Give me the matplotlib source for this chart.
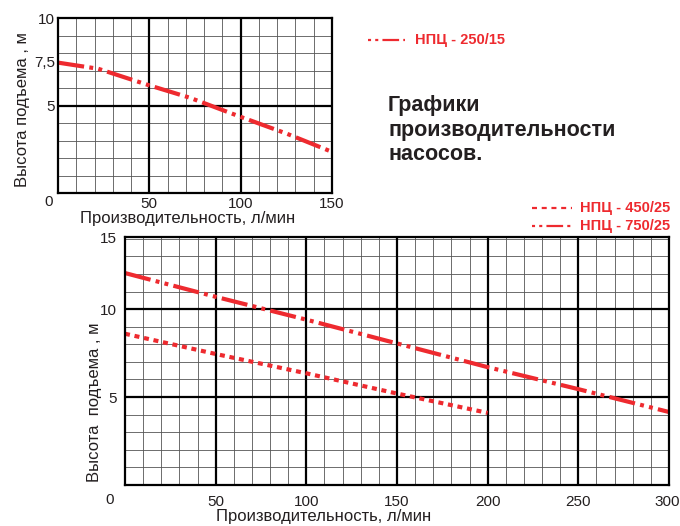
import matplotlib
matplotlib.use('Agg')
import numpy as np
import matplotlib.pyplot as plt
from matplotlib.lines import Line2D
from matplotlib.transforms import offset_copy

plt.rcParams['font.family'] = ['Liberation Sans', 'DejaVu Sans']
plt.rcParams['lines.scale_dashes'] = False

RED = '#ee2a2f'
DARK = '#231f20'

# ---- data ----
top_flow = [0, 22, 50, 72, 100, 125, 150]
top_head_250 = [7.45, 7.1, 6.15, 5.45, 4.35, 3.4, 2.35]
bot_flow_450 = [0, 50, 100, 150, 200]
bot_head_450 = [8.6, 7.45, 6.35, 5.2, 4.1]
bot_flow_750 = [0, 50, 100, 150, 200, 250, 300]
bot_head_750 = [12.05, 10.7, 9.4, 8.05, 6.7, 5.45, 4.15]

top_xticks = [50, 100, 150]
top_xticklabels = ['50', '100', '150']
top_yticks = [5, 7.5, 10]
top_yticklabels = ['5', '7,5', '10']
bot_xticks = [50, 100, 150, 200, 250, 300]
bot_xticklabels = ['50', '100', '150', '200', '250', '300']
bot_ytop = 14.1
bot_yticks = [5, 10, bot_ytop]
bot_yticklabels = ['5', '10', '15']

labels = ['НПЦ - 250/15', 'НПЦ - 450/25', 'НПЦ - 750/25']
xlabel = 'Производительность, л/мин'
ylabel_top = 'Высота подъема , м'
ylabel_bot = 'Высота  подъема , м'
title = 'Графики\nпроизводительности\nнасосов.'

DASHDOT2 = (0, (19, 3.8, 2.8, 3.8, 2.8, 3.8))
DOTTED = (0, (3.6, 3.4))
LW = 3.0

W, H = 680, 526
fig = plt.figure(figsize=(W / 100, H / 100), dpi=100)


def fx(px):
    return px / W


def fy(py):
    return 1 - py / H


def draw_grid(ax, xmax, ymax, xminor, yminor, xmajor, ymajor):
    for x in np.arange(xminor, xmax, xminor):
        ax.axvline(x, color='#555555', lw=0.6, zorder=1)
    for y in np.arange(yminor, ymax, yminor):
        ax.axhline(y, color='#555555', lw=0.6, zorder=1)
    for x in xmajor:
        ax.axvline(x, color='black', lw=1.6, zorder=2)
    for y in ymajor:
        ax.axhline(y, color='black', lw=1.6, zorder=2)
    for s in ax.spines.values():
        s.set_linewidth(1.6)
        s.set_color('black')
        s.set_zorder(5)
    ax.tick_params(length=0, labelsize=11, colors='#231f20')


# ---- top chart ----
ax1 = fig.add_axes([fx(58), fy(193), fx(274), 175 / H])
ax1.set_xlim(0, 150)
ax1.set_ylim(0, 10)
draw_grid(ax1, 150, 10, 10, 1, [50, 100], [5])
ax1.set_xticks(top_xticks)
ax1.set_xticklabels(top_xticklabels)
ax1.set_yticks(top_yticks)
ax1.set_yticklabels(top_yticklabels)
ax1.tick_params(axis='x', pad=3)
ax1.tick_params(axis='y', pad=2)
ax1.plot(top_flow, top_head_250, color=RED, lw=LW, linestyle=DASHDOT2, zorder=4)
ax1.text(-0.036, -0.051, '0', transform=ax1.transAxes, ha='center', va='center',
         fontsize=11, color=DARK)
fig.text(fx(188), fy(218), xlabel, ha='center', va='center', fontsize=12, color=DARK)
fig.text(fx(22), fy(110), ylabel_top, ha='center', va='center', rotation=90,
         fontsize=12, color=DARK)

# ---- bottom chart ----
ax2 = fig.add_axes([fx(125), fy(485), fx(544), 248 / H])
ax2.set_xlim(0, 300)
ax2.set_ylim(0, bot_ytop)
draw_grid(ax2, 300, bot_ytop - 0.05, 10, 1, [50, 100, 150, 200, 250], [5, 10])
ax2.set_xticks(bot_xticks)
ax2.set_xticklabels(bot_xticklabels)
ax2.set_yticks(bot_yticks)
ax2.set_yticklabels(bot_yticklabels)
ax2.tick_params(axis='x', pad=7)
ax2.tick_params(axis='y', pad=6)
last = ax2.get_xticklabels()[-1]
last.set_transform(offset_copy(last.get_transform(), fig=fig, x=-2, units='dots'))
ax2.plot(bot_flow_450, bot_head_450, color=RED, lw=LW, linestyle=DOTTED, zorder=4)
ax2.plot(bot_flow_750, bot_head_750, color=RED, lw=LW, linestyle=DASHDOT2, zorder=4)
ax2.text(-0.0276, -0.06, '0', transform=ax2.transAxes, ha='center', va='center',
         fontsize=11, color=DARK)
fig.text(fx(324), fy(517), xlabel, ha='center', va='center', fontsize=12, color=DARK)
fig.text(fx(95), fy(402), ylabel_bot, ha='center', va='center', rotation=90,
         fontsize=12, color=DARK)

# ---- legends ----
LEG_DASHDOT = (0, (2.2, 3.0, 2.2, 3.0, 12, 3.0, 2.2, 3.0, 2.2, 3.0, 2.2, 40))
legend_items = [
    (368, 405, 415, 40, LEG_DASHDOT, labels[0]),
    (532, 572, 580, 208, DOTTED, labels[1]),
    (532, 572, 580, 226, LEG_DASHDOT, labels[2]),
]
for x0, x1, tx, y, ls, lab in legend_items:
    fig.add_artist(Line2D([fx(x0), fx(x1)], [fy(y), fy(y)], transform=fig.transFigure,
                          color=RED, lw=1.6, linestyle=ls))
    fig.text(fx(tx), fy(y), lab, ha='left', va='center', fontsize=10.5,
             fontweight='bold', color=RED)

# ---- title ----
fig.text(fx(388), fy(95), title, ha='left', va='top', fontsize=15.5, fontweight='bold',
         color=DARK, linespacing=1.22)

fig.savefig('out.png', dpi=100)
